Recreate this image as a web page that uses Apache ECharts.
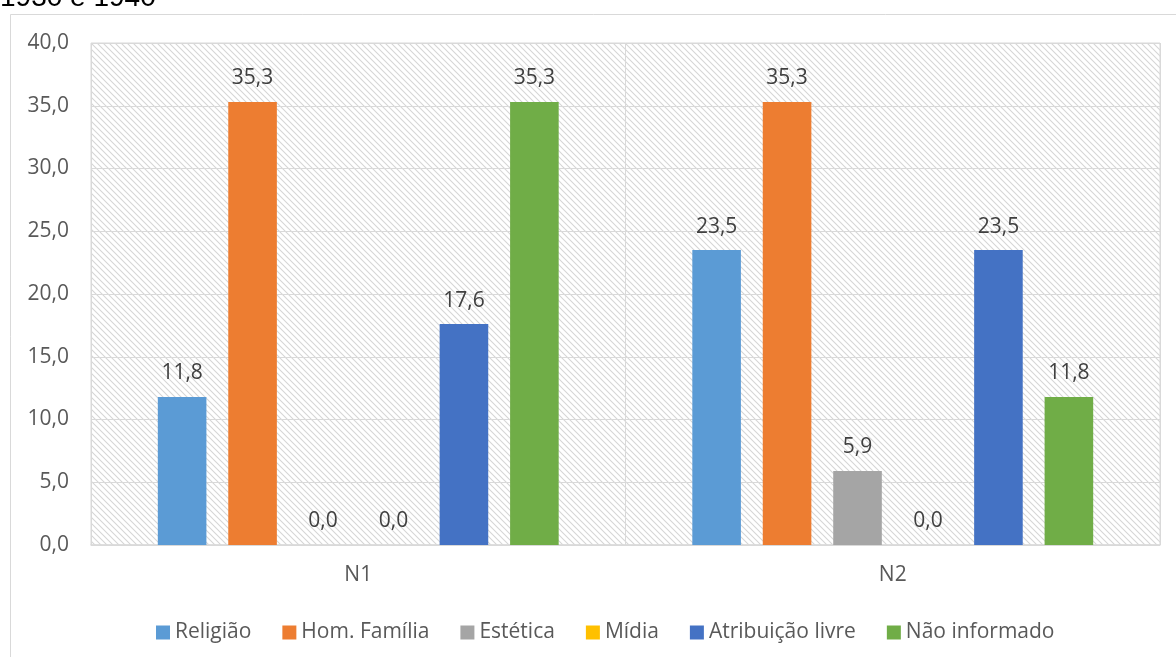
<!DOCTYPE html>
<html>
<head>
<meta charset="utf-8">
<script src="https://cdn.jsdelivr.net/npm/echarts@6/dist/echarts.min.js"></script>
<style>
html,body{margin:0;padding:0;background:#fff;}
#chart{width:1176px;height:657px;}
</style>
</head>
<body>
<div id="chart"></div>
<script>
var categories = ['N1', 'N2'];
var seriesNames = ['Religião', 'Hom. Família', 'Estética', 'Mídia', 'Atribuição livre', 'Não informado'];
var religiao = [11.8, 23.5];
var homFamilia = [35.3, 35.3];
var estetica = [0.0, 5.9];
var midia = [0.0, 0.0];
var atribuicao = [17.6, 23.5];
var naoInformado = [35.3, 11.8];
var colors = ['#5B9BD5', '#ED7D31', '#A5A5A5', '#FFC000', '#4472C4', '#70AD47'];
var yTicks = { min: 0, max: 40, interval: 5 };

var allData = [religiao, homFamilia, estetica, midia, atribuicao, naoInformado];

// hatch pattern
var pc = document.createElement('canvas');
pc.width = 6; pc.height = 6;
var ctx = pc.getContext('2d');
ctx.fillStyle = '#ffffff';
ctx.fillRect(0, 0, 6, 6);
ctx.strokeStyle = '#d6d6d6';
ctx.lineWidth = 1.1;
ctx.beginPath();
ctx.moveTo(-1, -1); ctx.lineTo(7, 7);
ctx.moveTo(-1, 5); ctx.lineTo(1, 7);
ctx.moveTo(5, -1); ctx.lineTo(7, 1);
ctx.stroke();

var fontFamily = '"Open Sans", Lato, sans-serif';
function fmt(v) { return v.toFixed(1).replace('.', ','); }

var chart = echarts.init(document.getElementById('chart'));
var series = seriesNames.map(function (name, i) {
  return {
    name: name,
    type: 'bar',
    data: allData[i],
    itemStyle: { color: colors[i] },
    barGap: '45%',
    barCategoryGap: '25%',
    label: {
      show: true,
      position: 'top',
      distance: 13,
      color: '#404040',
      fontSize: 21,
      fontFamily: fontFamily,
      formatter: function (p) { return fmt(p.value); }
    }
  };
});

chart.setOption({
  animation: false,
  backgroundColor: '#ffffff',
  color: colors,
  graphic: [
    { type: 'rect', shape: { x: 10.5, y: 14.5, width: 1200, height: 700 },
      style: { fill: 'none', stroke: '#d9d9d9', lineWidth: 1 }, z: -10 },
    { type: 'text', x: 0, y: -2,
      style: { text: '1930 e 1940', fontSize: 28, fill: '#000000', verticalAlign: 'middle',
        fontFamily: '"Liberation Sans", Arial, sans-serif' } }
  ],
  grid: {
    left: 91, right: 16, top: 43, bottom: 112,
    show: true,
    backgroundColor: { image: pc, repeat: 'repeat' },
    borderColor: '#d9d9d9',
    borderWidth: 1
  },
  legend: {
    top: 617,
    left: 151,
    itemWidth: 14,
    itemHeight: 14,
    itemGap: 31,
    icon: 'rect',
    textStyle: { color: '#595959', fontSize: 21, fontFamily: fontFamily },
    data: seriesNames
  },
  xAxis: {
    type: 'category',
    data: categories,
    axisLine: { lineStyle: { color: '#d9d9d9', width: 1.5 } },
    axisTick: { show: false },
    splitLine: { show: true, lineStyle: { color: '#d9d9d9' } },
    axisLabel: { color: '#595959', fontSize: 21, fontFamily: fontFamily, margin: 20 }
  },
  yAxis: {
    type: 'value',
    min: yTicks.min, max: yTicks.max, interval: yTicks.interval,
    axisLine: { show: false },
    axisTick: { show: false },
    splitLine: { lineStyle: { color: '#d9d9d9' } },
    axisLabel: { color: '#595959', fontSize: 21, fontFamily: fontFamily, margin: 22,
      formatter: function (v) { return fmt(v); } }
  },
  series: series
});
</script>
</body>
</html>
